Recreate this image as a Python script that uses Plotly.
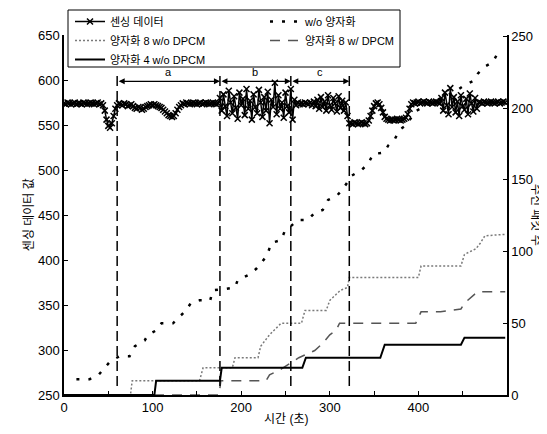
import plotly.graph_objects as go

# ---------------- data ----------------
# sensing data, sampled every 2 s (left axis)
sensing_vals = [
    574,573,575,574,573,574,575,573,574,574,573,575,574,573,574,575,574,573,574,575,573,574,
    572,566,556,549,547,552,560,568,
    572,574,573,572,574,573,571,572,573,
    571,569,568,570,569,567,568,570,571,572,573,572,
    573,572,571,570,569,
    567,565,563,561,560,559,560,563,567,570,572,
    574,573,575,574,573,574,575,574,573,574,575,573,574,575,574,573,574,575,574,573,574,
    580,566,584,571,560,588,575,563,582,569,557,586,572,579,561,590,568,577,556,584,
    570,563,589,575,559,581,566,587,552,578,570,597,562,583,568,575,558,586,571,564,
    590,556,578,572,575,573,574,573,575,574,573,575,572,576,571,
    578,568,581,570,576,566,583,572,567,580,574,565,582,569,577,566,575,
    560,552,
    552,551,553,552,551,552,553,552,551,552,
    555,560,566,571,574,575,573,569,564,559,557,556,555,
    556,555,556,557,556,555,556,557,
    558,562,568,573,575,
    574,575,576,574,575,576,575,574,576,575,574,575,576,575,574,
    580,566,586,572,562,591,570,581,564,576,560,583,571,567,579,562,585,574,565,580,568,575,
    575,574,576,575,574,575,576,575,574,575,576,574,575,576,575,
]
sensing_t = [2 * i for i in range(len(sensing_vals))]

# received packets (right axis)
wo_t = [14, 29, 39, 46, 53, 63, 74, 80, 91, 95, 104, 110, 123, 131, 138, 143, 153, 165, 168, 183,
        193, 196, 209, 217, 229, 234, 245, 249, 264, 275, 283, 292, 298, 308, 314, 325, 336, 343,
        349, 361, 366, 373, 379, 386, 397, 410, 425, 440, 452, 462, 467, 475, 484, 490]
wo_v = [11, 11, 14, 19, 24, 27, 27, 34, 38, 42, 45, 50, 50, 55, 59, 64, 66, 66, 73, 74,
        75, 80, 84, 88, 97, 106, 108, 114, 122, 122, 127, 129, 136, 139, 143, 153, 157, 161,
        168, 169, 174, 178, 185, 188, 198, 202, 207, 211, 216, 219, 224, 229, 232, 239]

q8_t = [0, 75, 77, 153, 157, 190, 193, 219, 222, 232, 245, 268, 272, 296, 300, 312, 320, 322,
        400, 403, 448, 452, 465, 470, 475, 498]
q8_v = [0, 0, 10, 10, 19, 19, 26, 26, 34, 42, 50, 50, 59, 59, 66, 73, 75, 82,
        82, 90, 90, 98, 102, 106, 111, 112]

dp_t = [0, 175, 177, 228, 232, 245, 255, 265, 283, 292, 300, 307, 311, 397, 403, 425, 448,
        452, 463, 467, 498]
dp_v = [0, 0, 10, 10, 14, 18, 22, 26, 31, 36, 42, 45, 50, 50, 58, 58, 60,
        64, 70, 72, 72]

q4_t = [0, 102, 104, 176, 178, 269, 273, 357, 362, 448, 452, 498]
q4_v = [0, 0, 10, 10, 19, 19, 26, 26, 35, 35, 40, 40]

region_bounds = [60, 176, 256, 322]
region_labels = ["a", "b", "c"]

names = ["센싱 데이터", "w/o 양자화", "양자화 8 w/o DPCM", "양자화 8 w/ DPCM", "양자화 4 w/o DPCM"]

FONT = "Liberation Sans, Noto Sans CJK KR, sans-serif"

fig = go.Figure()
fig.add_trace(go.Scatter(
    x=sensing_t, y=sensing_vals, name=names[0], mode="lines+markers",
    line=dict(color="black", width=1.5),
    marker=dict(symbol="x-thin", size=6, color="black", line=dict(width=1.5, color="black")),
    yaxis="y"))
fig.add_trace(go.Scatter(
    x=wo_t, y=wo_v, name=names[1], mode="lines",
    line=dict(color="black", width=2.5, dash="3px,9px"), yaxis="y2"))
fig.add_trace(go.Scatter(
    x=q8_t, y=q8_v, name=names[2], mode="lines",
    line=dict(color="#7a7a7a", width=1.5, dash="2px,2px"), yaxis="y2"))
fig.add_trace(go.Scatter(
    x=dp_t, y=dp_v, name=names[3], mode="lines",
    line=dict(color="#555555", width=1.5, dash="10px,8px"), yaxis="y2"))
fig.add_trace(go.Scatter(
    x=q4_t, y=q4_v, name=names[4], mode="lines",
    line=dict(color="black", width=2), yaxis="y2"))

shapes = []
for xb in region_bounds:
    shapes.append(dict(type="line", xref="x", yref="y", x0=xb, x1=xb, y0=260, y1=605,
                       line=dict(color="black", width=1.5, dash="10px,5px")))
# legend box
shapes.append(dict(type="rect", xref="paper", yref="paper",
                   x0=(60 - 56) / 443, x1=(392 - 56) / 443,
                   y0=1 - (59 - 27) / 360, y1=1 + (27 - 2) / 360,
                   line=dict(color="black", width=1), fillcolor="rgba(0,0,0,0)", layer="above"))

annotations = []
for i, lab in enumerate(region_labels):
    x0, x1 = region_bounds[i], region_bounds[i + 1]
    annotations.append(dict(x=x1, y=598.5, ax=x0, ay=598.5, xref="x", yref="y", axref="x", ayref="y",
                            text="", showarrow=True, arrowhead=2, arrowside="end+start",
                            arrowsize=1, arrowwidth=1.2, arrowcolor="black", standoff=0, startstandoff=0))
    annotations.append(dict(x=(x0 + x1) / 2, y=599.5, xref="x", yref="y", text=lab, showarrow=False,
                            yanchor="bottom", font=dict(family=FONT, size=11, color="black")))

annotations.append(dict(x=-0.099, y=0.5, xref="paper", yref="paper", text="센싱 데이터 값",
                        textangle=-90, showarrow=False, font=dict(family=FONT, size=12, color="black")))
annotations.append(dict(x=1.086, y=0.5, xref="paper", yref="paper", text="수신 패킷 수",
                        textangle=90, showarrow=False, font=dict(family=FONT, size=12, color="black")))
annotations.append(dict(x=0.5, y=-0.092, xref="paper", yref="paper", text="시간 (초)",
                        showarrow=False, font=dict(family=FONT, size=12, color="black")))

fig.update_layout(
    width=547, height=434,
    margin=dict(l=56, r=48, t=27, b=47, autoexpand=False),
    paper_bgcolor="white", plot_bgcolor="white",
    font=dict(family=FONT, size=13, color="black"),
    showlegend=True,
    legend=dict(orientation="h", x=(62 - 56) / 443, xanchor="left", y=1 + 28 / 360, yanchor="top",
                entrywidth=150, entrywidthmode="pixels", bgcolor="rgba(0,0,0,0)", borderwidth=0,
                font=dict(family=FONT, size=11, color="black"), traceorder="normal"),
    xaxis=dict(range=[0, 500], tickvals=[0, 100, 200, 300, 400], ticks="inside", ticklen=4,
               showline=True, linecolor="black", linewidth=1.5, showgrid=False, zeroline=False,
               minor=dict(tickvals=[50, 150, 250, 350, 450], ticks="inside", ticklen=4, tickcolor="black"),
               tickcolor="black", tickfont=dict(size=13)),
    yaxis=dict(range=[250, 650], dtick=50, ticks="inside", ticklen=4, showline=True, linecolor="black",
               linewidth=1.5, showgrid=False, zeroline=False, tickcolor="black", tickfont=dict(size=13)),
    yaxis2=dict(range=[0, 251], tickvals=[0, 50, 100, 150, 200, 250], overlaying="y", side="right",
                ticks="inside", ticklen=4, showline=True, linecolor="black", linewidth=1.5,
                showgrid=False, zeroline=False, tickcolor="black", tickfont=dict(size=13)),
    shapes=shapes, annotations=annotations,
)

fig.write_html("out.html")
